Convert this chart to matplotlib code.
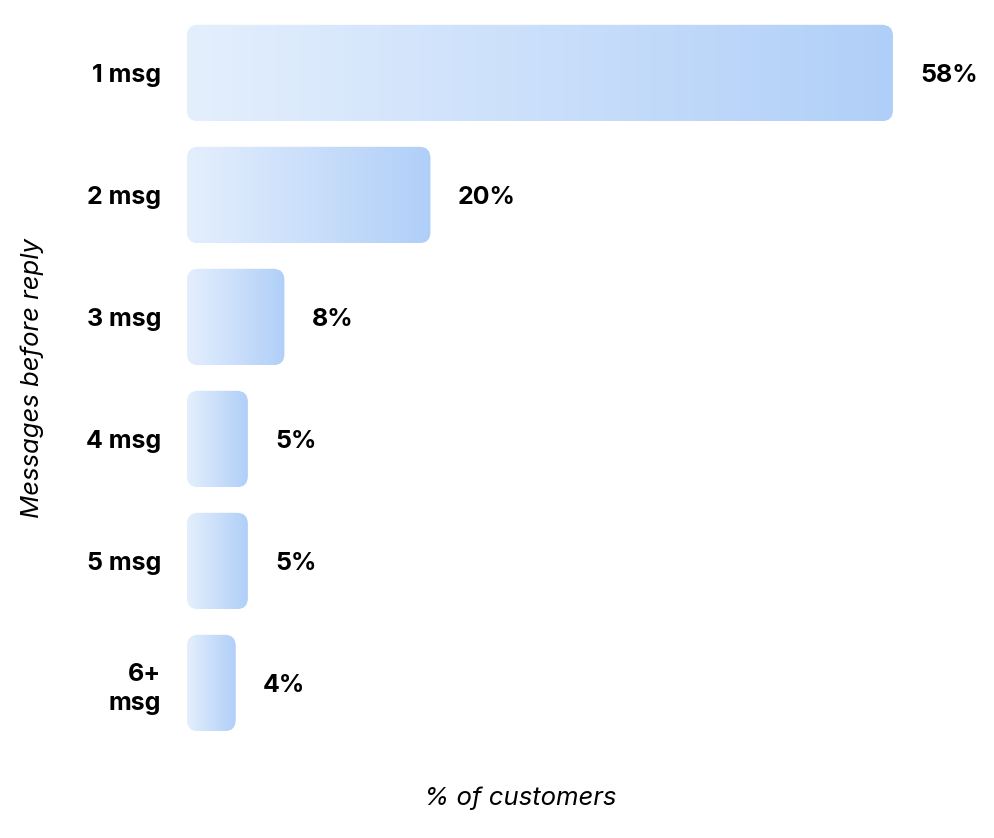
import matplotlib.pyplot as plt
import numpy as np
from matplotlib.patches import FancyBboxPatch
from matplotlib.colors import LinearSegmentedColormap

categories = ['1 msg', '2 msg', '3 msg', '4 msg', '5 msg', '6+\nmsg']
values = [58, 20, 8, 5, 5, 4]

plt.rcParams['font.family'] = ['Inter', 'DejaVu Sans']

W, H = 994, 838
fig = plt.figure(figsize=(W / 100, H / 100), dpi=100)
# axes placed in pixels: left 187, right 966, top 12, bottom 744
ax = fig.add_axes([187 / W, (H - 744) / H, (966 - 187) / W, (744 - 12) / H])
xmax = 64
ax.set_xlim(0, xmax)
ax.set_ylim(len(values) - 0.5, -0.5)

cmap = LinearSegmentedColormap.from_list('bar', ['#E4EFFD', '#B0CFF8'])
grad = np.linspace(0, 1, 256).reshape(1, -1)

fs = 18
bar_h = 0.79
# pixels per data unit, used to keep the corners round
px_x = (966 - 187) / xmax
px_y = (744 - 12) / len(values)
radius_px = 11

bars = ax.barh(range(len(values)), values, height=bar_h, color='none')
for rect, v in zip(bars, values):
    x0, y0 = rect.get_x(), rect.get_y()
    w, h = rect.get_width(), rect.get_height()
    patch = FancyBboxPatch((x0, y0), w, h,
                           boxstyle=f'round,pad=0,rounding_size={radius_px / px_x}',
                           mutation_aspect=px_x / px_y,
                           facecolor='none', edgecolor='none')
    ax.add_patch(patch)
    im = ax.imshow(grad, cmap=cmap, aspect='auto', extent=[x0, x0 + w, y0 + h, y0],
                   interpolation='bicubic')
    im.set_clip_path(patch)
    ax.annotate(f'{v}%', xy=(x0 + w, y0 + h / 2), xytext=(19.5, 0),
                textcoords='offset points', va='center_baseline', ha='left',
                fontsize=fs, fontweight='bold', color='black')

ax.set_xlim(0, xmax)
ax.set_ylim(len(values) - 0.5, -0.5)
ax.set_yticks(range(len(values)))
ax.set_yticklabels(categories, fontsize=fs, fontweight='bold', color='black',
                   linespacing=1.35)
ax.tick_params(axis='y', length=0, pad=18.5)
ax.set_xticks([])
for s in ax.spines.values():
    s.set_visible(False)

fig.text(520 / W, 1 - 798 / H, '% of customers', ha='center', va='center',
         fontsize=fs + 0.5, style='italic', color='black')
fig.text(32 / W, 1 - 378 / H, 'Messages before reply', ha='center', va='center',
         rotation=90, fontsize=fs + 0.5, style='italic', color='black')

fig.savefig('out.png', dpi=100)
